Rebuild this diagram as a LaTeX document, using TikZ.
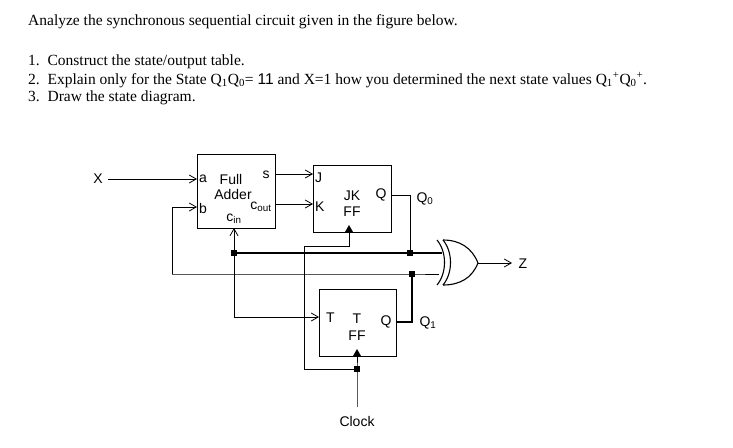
\documentclass[tikz,border=0pt]{standalone}
\usepackage{fontspec}
\setmainfont{Liberation Serif}
\newfontfamily\arialf{Liberation Sans}
\usetikzlibrary{arrows.meta}
\begin{document}
\begin{tikzpicture}[x=1pt,y=-1pt,
  w/.style={line width=0.8pt},
  tw/.style={line width=2pt},
  ar/.style={w,-{Straight Barb[length=7pt,width=8pt]}},
  bx/.style={draw,line width=0.9pt,inner sep=0},
  lb/.style={font=\arialf\fontsize{14}{16}\selectfont,inner sep=0},
  dot/.style={fill,minimum size=6pt,inner sep=0},
  tx/.style={anchor=west,inner sep=0,font=\fontsize{15.5}{18}\selectfont}]
\useasboundingbox (0,0) rectangle (733,447);
% text
\node[tx] (t0) at (28,22) {Analyze the synchronous sequential circuit given in the figure below.};
\node[tx] (t1) at (28,62) {1.\enspace Construct the state/output table.};
\node[tx] (t2) at (28,80) {2.\enspace Explain only for the State Q\textsubscript{1}Q\textsubscript{0}= {\arialf 11} and X=1 how you determined the next state values Q\textsubscript{1}\textsuperscript{+}Q\textsubscript{0}\textsuperscript{+}.};
\node[tx] (t3) at (28,98) {3.\enspace Draw the state diagram.};
% boxes
\node[bx,minimum width=78pt,minimum height=74pt] (fa) at (236,191) {};
\node[bx,minimum width=78pt,minimum height=67pt] (jk) at (352,198.5) {};
\node[bx,minimum width=77pt,minimum height=67pt] (tf) at (357.5,322.5) {};
% labels
\node[lb] (X) at (98,179) {X};
\node[lb,anchor=west] (la) at (199,179) {a};
\node[lb,anchor=west] (lbb) at (199,208) {b};
\node[lb] (lfull) at (231,179) {Full};
\node[lb] (ladd) at (233,194) {Adder};
\node[lb] (ls) at (266,175) {s};
\node[lb] (lco) at (261,207) {c\textsubscript{out}};
\node[lb] (lci) at (234,219) {c\textsubscript{in}};
\node[lb,anchor=west] (lj) at (315,178) {J};
\node[lb,anchor=west] (lk) at (315,207) {K};
\node[lb] (ljk) at (352,196) {JK};
\node[lb] (lff) at (352,212) {FF};
\node[lb] (lq) at (381,195) {Q};
\node[lb] (lq0) at (425,199) {Q\textsubscript{0}};
\node[lb,anchor=west] (lt) at (326,318) {T};
\node[lb] (lt2) at (357,319) {T};
\node[lb] (lff2) at (357,336) {FF};
\node[lb] (lq2) at (386,322) {Q};
\node[lb] (lq1) at (428,323) {Q\textsubscript{1}};
\node[lb] (Z) at (523,264) {Z};
\node[lb] (clk) at (357,421) {Clock};
% clock triangles
\fill (345,232) -- (353,232) -- (349,225) -- cycle;
\fill (353,356) -- (361,356) -- (357,349) -- cycle;
% coordinates
\coordinate (ja) at (197,179);
\coordinate (jb) at (197,207);
\coordinate (js) at (313,174);
\coordinate (jkk) at (313,204);
\coordinate (d1) at (410,253);
\coordinate (d2) at (412,274);
\coordinate (d3) at (234,253);
\coordinate (d4) at (357,369);
% wires
\draw[ar] (108,179) -- (ja);
\draw[ar] (275,174) -- (js);
\draw[ar] (275,204) -- (jkk);
\draw[ar] (172,274) -- (172,207) -- (jb);
\draw[w] (172,274) -- (d2) -- (439,274);
\draw[w] (391,195) -- (410,195) -- (d1);
\draw[tw] (d3) -- (d1) -- (442,253);
\draw[ar] (d3) -- (234,228);
\draw[ar] (d3) -- (234,317) -- (319,317);
\draw[w] (349,232) -- (349,246) -- (304,246) -- (304,369) -- (d4);
\draw[w] (357,407) -- (d4) -- (357,356);
\draw[tw] (396,322) -- (412,322) -- (d2);
\foreach \p in {d1,d2,d3,d4} \node[dot] at (\p) {};
% XOR
\draw[line width=1.1pt] (437,240) .. controls (447,252) and (447,273) .. (437,285);
\draw[line width=1.1pt] (443,240) .. controls (453,252) and (453,273) .. (443,285);
\draw[line width=1.1pt] (443,240) .. controls (460,240) and (472,248) .. (478,263)
   .. controls (472,278) and (460,285) .. (443,285);
\draw[ar] (478,263) -- (512,263);
\end{tikzpicture}
\end{document}
